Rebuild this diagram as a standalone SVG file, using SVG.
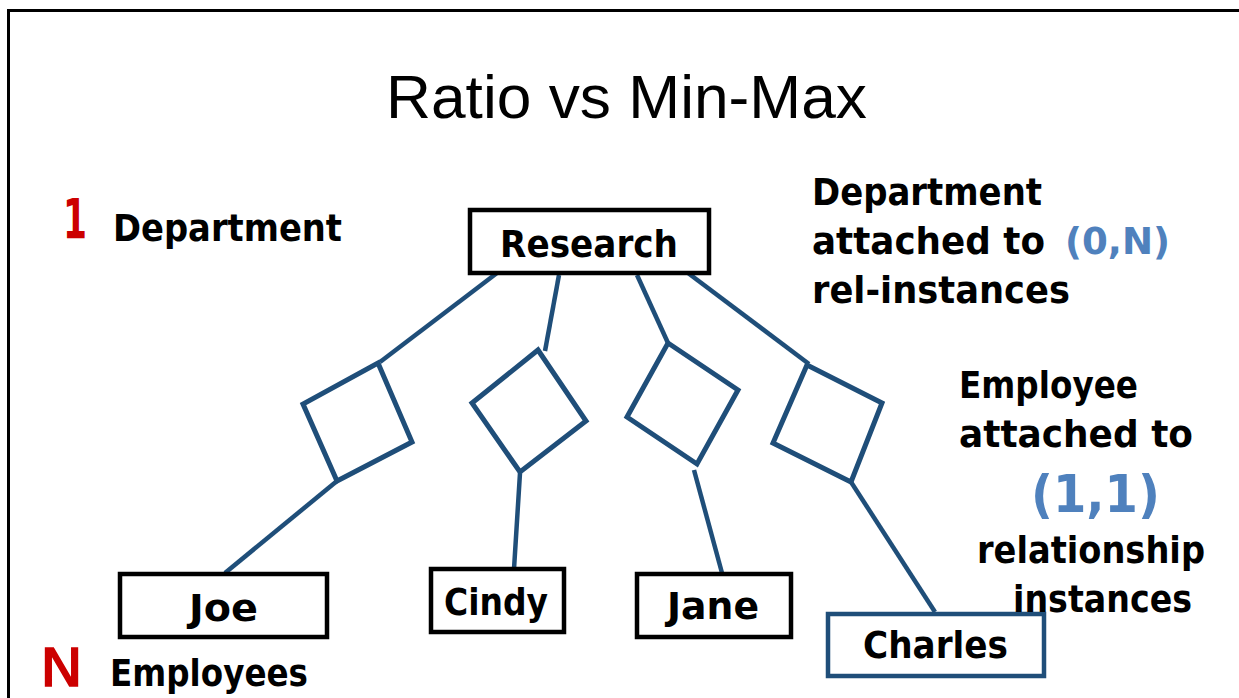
<svg xmlns="http://www.w3.org/2000/svg" width="1239" height="698" viewBox="0 0 1239 698">
<style>
.t{font-family:"DejaVu Sans","Liberation Sans",sans-serif;font-weight:bold;fill:#000;font-size:38px}
.title{font-family:"Liberation Sans","DejaVu Sans",sans-serif;font-size:61px;fill:#000}
.red{fill:#CC0000}
.lb{fill:#4F81BD}
.box{fill:#fff;stroke:#000;stroke-width:4.5}
.bbox{fill:#fff;stroke:#1F4E79;stroke-width:4.5}
.rel{fill:#fff;stroke:#1F4E79;stroke-width:5;stroke-linejoin:miter}
.ln{stroke:#1F4E79;stroke-width:4.5;fill:none}
</style>
<rect width="1239" height="698" fill="#fff"/>
<path d="M8.5 698 V10.5 H1239" fill="none" stroke="#000" stroke-width="3"/>
<text class="title" x="386" y="118" textLength="481" lengthAdjust="spacingAndGlyphs">Ratio vs Min-Max</text>

<g id="labels">
<text class="t red" x="63" y="238" style="font-size:56px" textLength="24" lengthAdjust="spacingAndGlyphs">1</text>
<text class="t" x="113" y="241" textLength="229" lengthAdjust="spacingAndGlyphs">Department</text>
<text class="t red" x="40" y="686" style="font-size:52px;font-weight:normal;stroke:#CC0000;stroke-width:1.5" textLength="43" lengthAdjust="spacingAndGlyphs">N</text>
<text class="t" x="110" y="686" textLength="198" lengthAdjust="spacingAndGlyphs">Employees</text>
<text class="t" x="812" y="205" textLength="230" lengthAdjust="spacingAndGlyphs">Department</text>
<text class="t" x="812" y="254" textLength="233" lengthAdjust="spacingAndGlyphs">attached to</text>
<text class="t lb" x="1065" y="254" textLength="105" lengthAdjust="spacingAndGlyphs">(0,N)</text>
<text class="t" x="812" y="303" textLength="258" lengthAdjust="spacingAndGlyphs">rel-instances</text>
<text class="t" x="959" y="398" textLength="179" lengthAdjust="spacingAndGlyphs">Employee</text>
<text class="t" x="959" y="447" textLength="234" lengthAdjust="spacingAndGlyphs">attached to</text>
<text class="t lb" x="1031" y="512" style="font-size:52px" textLength="129" lengthAdjust="spacingAndGlyphs">(1,1)</text>
<text class="t" x="977" y="563" textLength="228" lengthAdjust="spacingAndGlyphs">relationship</text>
</g>

<g id="connectors">
<line class="ln" x1="497" y1="273" x2="380" y2="362"/>
<line class="ln" x1="337" y1="481" x2="225" y2="573"/>
<line class="ln" x1="559" y1="275" x2="545" y2="351"/>
<line class="ln" x1="520" y1="473" x2="514" y2="569"/>
<line class="ln" x1="637" y1="275" x2="668" y2="343"/>
<line class="ln" x1="694" y1="470" x2="722" y2="573"/>
<line class="ln" x1="688" y1="273" x2="809" y2="364"/>
<line class="ln" x1="851" y1="482" x2="935" y2="612"/>
</g>

<g id="rel1"><polygon class="rel" points="378,363 412,442 337,481 303,404"/></g>
<g id="rel2"><polygon class="rel" points="538,350 586,421 520,472 472,403"/></g>
<g id="rel3"><polygon class="rel" points="668,343 738,390 697,464 627,417"/></g>
<g id="rel4"><polygon class="rel" points="807,365 882,403 851,482 773,443"/></g>

<g id="research">
<rect class="box" x="470" y="210" width="239" height="63"/>
<text class="t" x="500" y="257" textLength="178" lengthAdjust="spacingAndGlyphs">Research</text>
</g>
<g id="joe">
<rect class="box" x="120" y="574" width="207" height="63"/>
<text class="t" x="189" y="621" textLength="69" lengthAdjust="spacingAndGlyphs">Joe</text>
</g>
<g id="cindy">
<rect class="box" x="431" y="569" width="133" height="63"/>
<text class="t" x="444" y="615" textLength="104" lengthAdjust="spacingAndGlyphs">Cindy</text>
</g>
<g id="jane">
<rect class="box" x="637" y="574" width="154" height="63"/>
<text class="t" x="667" y="619" textLength="92" lengthAdjust="spacingAndGlyphs">Jane</text>
</g>
<g id="charles">
<rect class="bbox" x="828" y="614" width="216" height="62"/>
<text class="t" x="863" y="658" textLength="145" lengthAdjust="spacingAndGlyphs">Charles</text>
</g>
<text class="t" x="1013" y="612" textLength="179" lengthAdjust="spacingAndGlyphs">instances</text>
</svg>
